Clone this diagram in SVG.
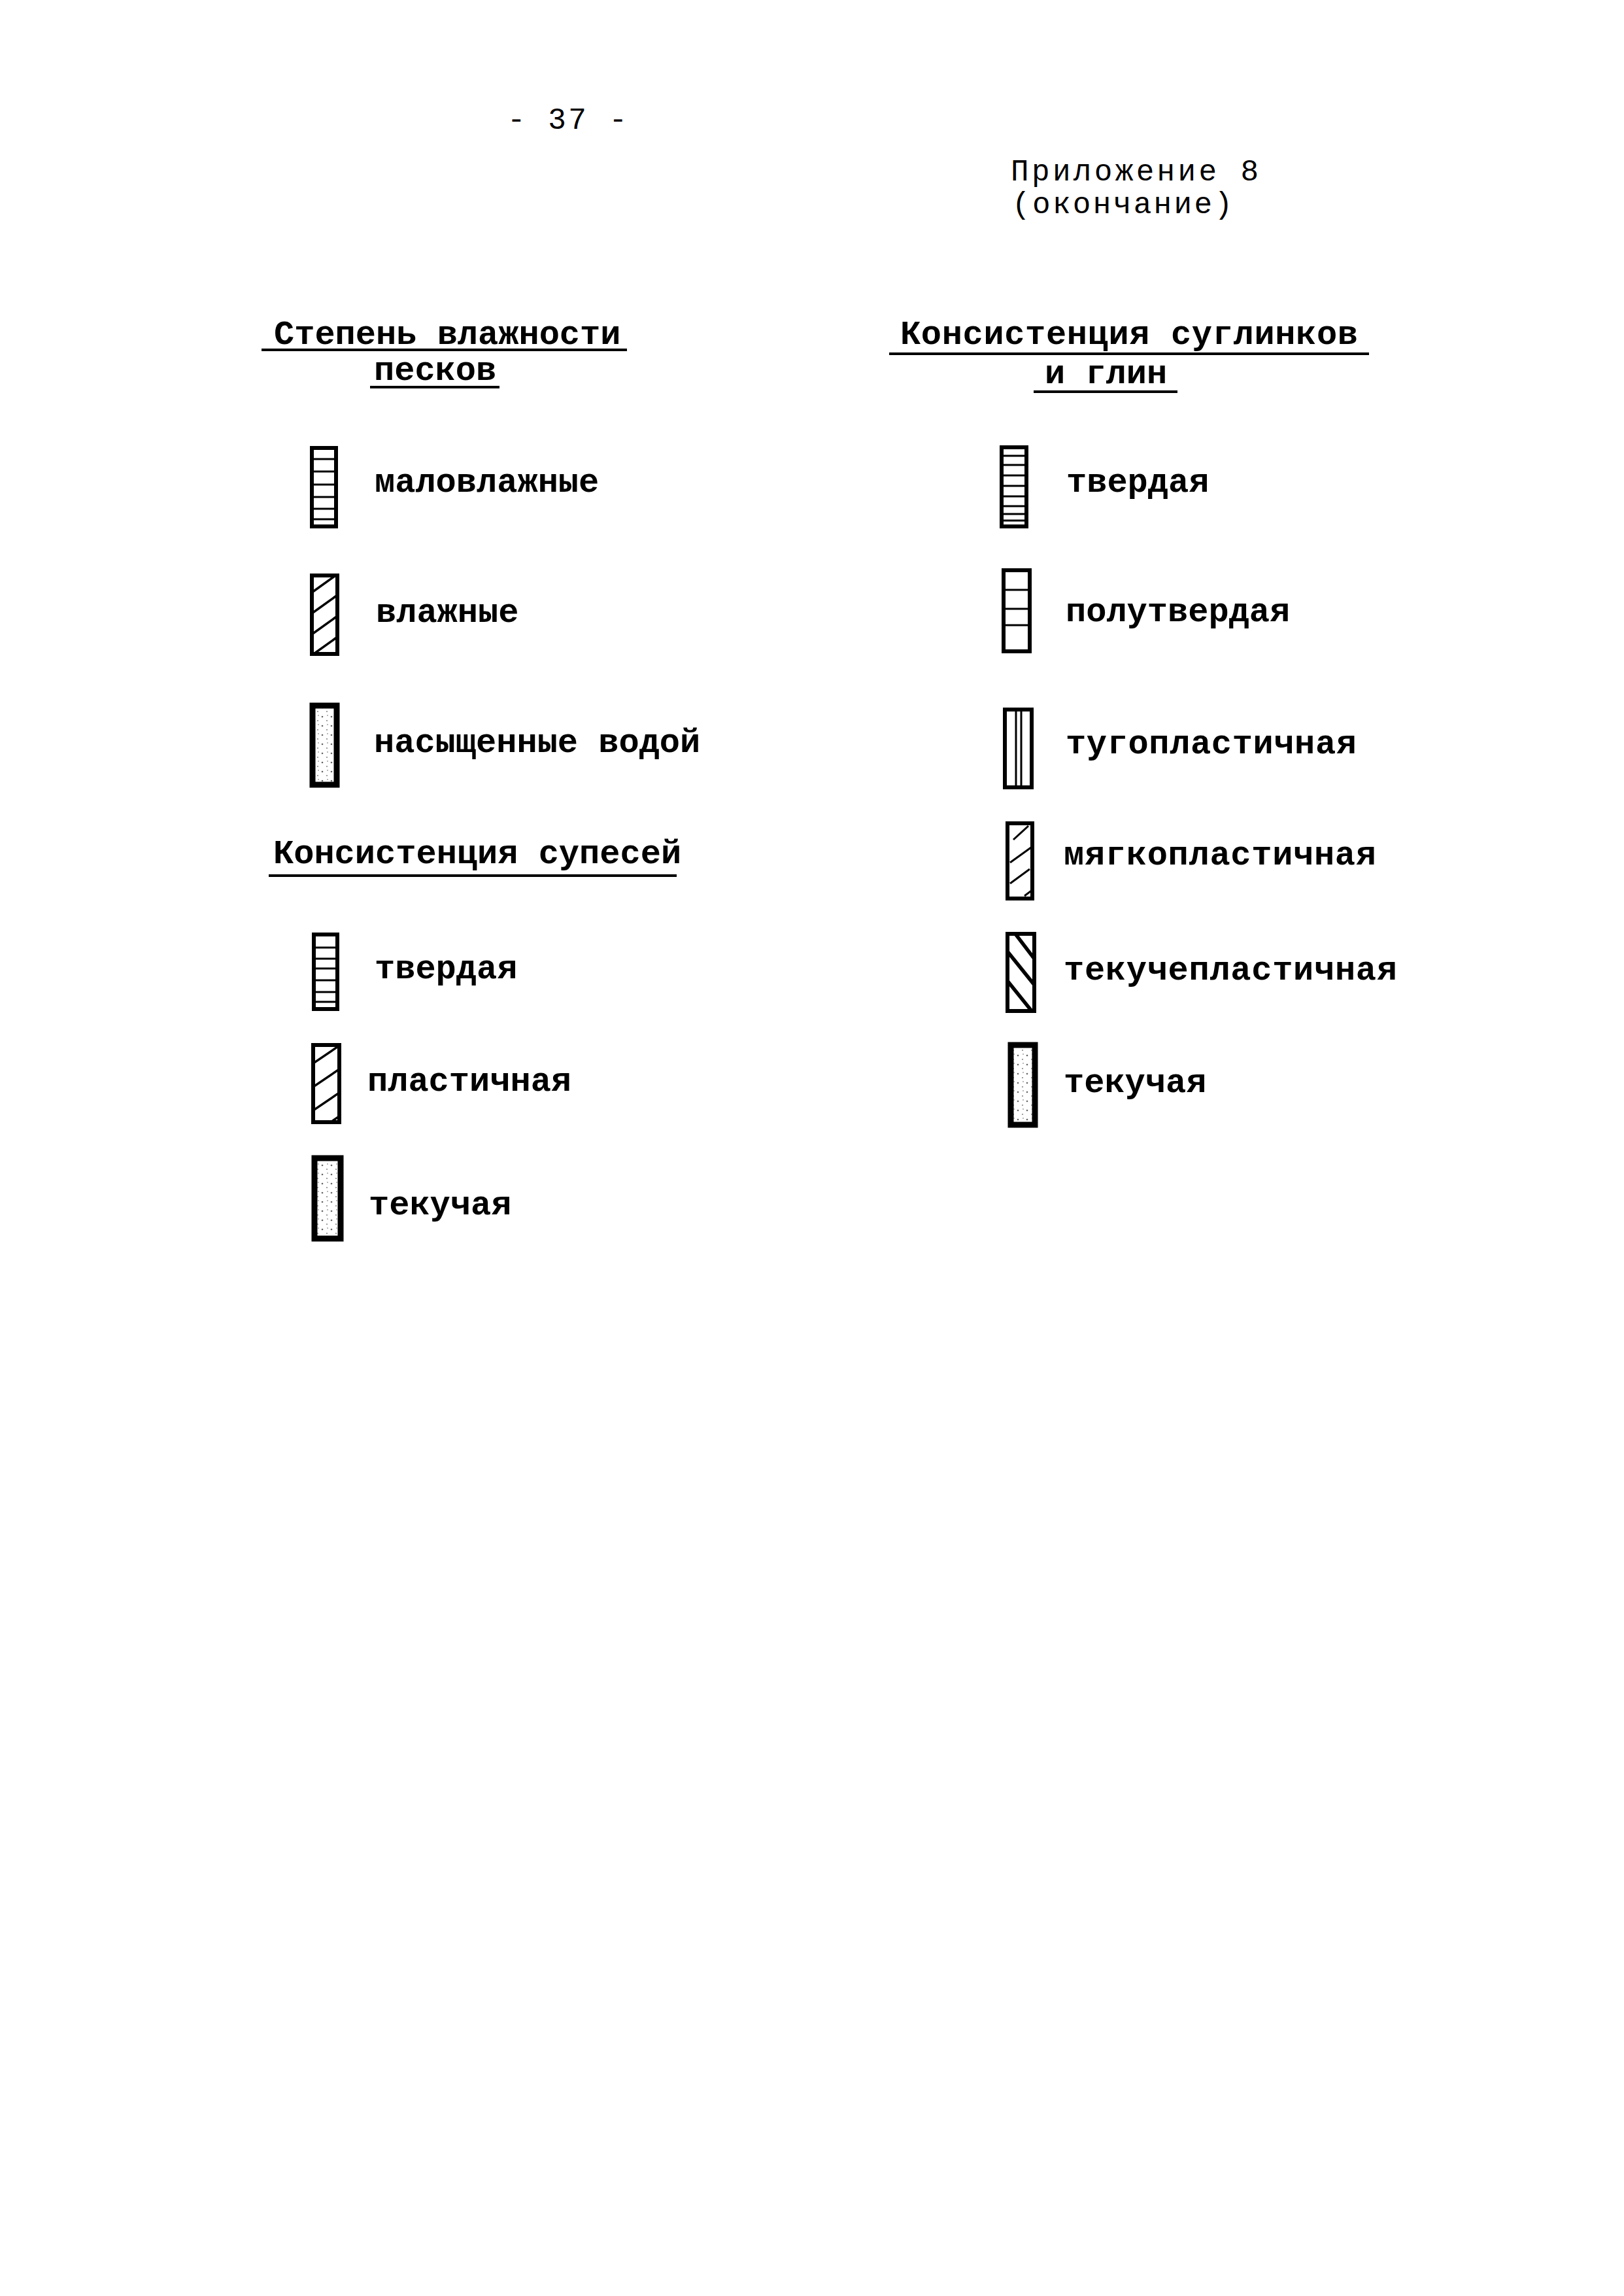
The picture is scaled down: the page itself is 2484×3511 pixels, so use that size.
<svg xmlns="http://www.w3.org/2000/svg" width="2484" height="3511" viewBox="0 0 2484 3511">
<style>
  text { font-family: "Liberation Mono", "Courier New", monospace; font-size: 52px; fill: #000; font-weight: bold; }
  .hdr { font-weight: normal; font-size: 46px; }
  .ul { stroke: #000; stroke-width: 4; fill: none; }
  .box { fill: none; stroke: #000; stroke-width: 6; }
  .thick { fill: url(#stipple); stroke: #000; stroke-width: 9; }
  .hl { stroke: #000; stroke-width: 3; fill: none; }
  .hd { stroke: #000; stroke-width: 3.5; fill: none; }
  .hdt { stroke: #000; stroke-width: 5.5; fill: none; }
</style>
<defs>
  <pattern id="stipple" patternUnits="userSpaceOnUse" width="14" height="14">
    <rect width="14" height="14" fill="#fff"/>
    <circle cx="3" cy="4" r="1.3" fill="#666"/>
    <circle cx="10" cy="10" r="1.1" fill="#888"/>
    <circle cx="11" cy="2" r="0.9" fill="#999"/>
  </pattern>
  <clipPath id="c-vl"><rect x="477" y="880" width="39" height="120"/></clipPath>
  <clipPath id="c-pl"><rect x="479" y="1598" width="40" height="118"/></clipPath>
  <clipPath id="c-mp"><rect x="1541" y="1259" width="38" height="115"/></clipPath>
  <clipPath id="c-tp"><rect x="1541" y="1428" width="41" height="118"/></clipPath>
</defs>
<rect width="2484" height="3511" fill="#fff"/>

<g id="header">
  <text class="hdr" x="776" y="197" textLength="183" lengthAdjust="spacing">- 37 -</text>
  <text class="hdr" x="1546" y="276" textLength="379" lengthAdjust="spacing">Приложение 8</text>
  <text class="hdr" x="1548" y="326" textLength="337" lengthAdjust="spacing">(окончание)</text>
</g>

<g id="title-left">
  <text x="419" y="526">Степень влажности</text>
  <line class="ul" x1="400" y1="535" x2="959" y2="535"/>
  <text x="572" y="581">песков</text>
  <line class="ul" x1="566" y1="592" x2="764" y2="592"/>
</g>

<g id="title-right">
  <text x="1377" y="526" textLength="700" lengthAdjust="spacing">Консистенция суглинков</text>
  <line class="ul" x1="1360" y1="541" x2="2094" y2="541"/>
  <text x="1598" y="586">и глин</text>
  <line class="ul" x1="1581" y1="599" x2="1801" y2="599"/>
</g>

<g id="sand-low">
  <rect class="box" x="477" y="685" width="37" height="120"/>
  <path class="hl" d="M477 702H514M477 721H514M477 741H514M477 760H514M477 778H514M477 794H514"/>
  <text x="573" y="752">маловлажные</text>
</g>

<g id="sand-moist">
  <rect class="box" x="477" y="880" width="39" height="120"/>
  <g clip-path="url(#c-vl)">
    <path class="hd" d="M477 906L516 878M477 938L516 910M477 970L516 942M477 1002L516 974"/>
  </g>
  <text x="575" y="951">влажные</text>
</g>

<g id="sand-saturated">
  <rect class="thick" x="478" y="1079" width="37" height="121"/>
  <text x="572" y="1150">насыщенные водой</text>
</g>

<g id="title-supes">
  <text x="418" y="1320">Консистенция супесей</text>
  <line class="ul" x1="411" y1="1339" x2="1035" y2="1339"/>
</g>

<g id="supes-hard">
  <rect class="box" x="480" y="1429" width="36" height="114"/>
  <path class="hl" d="M480 1449H516M480 1466H516M480 1481H516M480 1499H516M480 1517H516M480 1532H516"/>
  <text x="573" y="1496">твердая</text>
</g>

<g id="supes-plastic">
  <rect class="box" x="479" y="1598" width="40" height="118"/>
  <g clip-path="url(#c-pl)">
    <path class="hd" d="M479 1626L519 1599M479 1662L519 1635M479 1698L519 1671M479 1734L519 1707"/>
  </g>
  <text x="562" y="1668">пластичная</text>
</g>

<g id="supes-fluid">
  <rect class="thick" x="481" y="1771" width="40" height="123"/>
  <text x="564" y="1857">текучая</text>
</g>

<g id="clay-hard">
  <rect class="box" x="1532" y="684" width="38" height="121"/>
  <path class="hl" d="M1532 697H1570M1532 711H1570M1532 727H1570M1532 743H1570M1532 759H1570M1532 774H1570M1532 786H1570M1532 796H1570"/>
  <text x="1631" y="752">твердая</text>
</g>

<g id="clay-semihard">
  <rect class="box" x="1535" y="872" width="40" height="124"/>
  <path class="hl" d="M1535 902H1575M1535 931H1575M1535 956H1575"/>
  <text x="1630" y="950">полутвердая</text>
</g>

<g id="clay-stiff">
  <rect class="box" x="1537" y="1085" width="41" height="119"/>
  <path class="hl" d="M1554 1085V1204M1562 1085V1204"/>
  <text x="1630" y="1152" textLength="445" lengthAdjust="spacing">тугопластичная</text>
</g>

<g id="clay-soft">
  <rect class="box" x="1541" y="1259" width="38" height="115"/>
  <g clip-path="url(#c-mp)">
    <path class="hl" d="M1550 1284L1573 1263M1545 1319L1577 1296M1545 1351L1575 1329M1567 1370L1579 1361"/>
  </g>
  <text x="1627" y="1322" textLength="478" lengthAdjust="spacing">мягкопластичная</text>
</g>

<g id="clay-fluidplastic">
  <rect class="box" x="1541" y="1428" width="41" height="118"/>
  <g clip-path="url(#c-tp)">
    <path class="hdt" d="M1553 1428L1582 1466M1541 1455L1582 1506M1541 1500L1578 1546"/>
  </g>
  <text x="1627" y="1498" textLength="510" lengthAdjust="spacing">текучепластичная</text>
</g>

<g id="clay-fluid">
  <rect class="thick" x="1546" y="1598" width="37" height="122"/>
  <text x="1627" y="1670">текучая</text>
</g>

<g id="connectors"></g>
</svg>
